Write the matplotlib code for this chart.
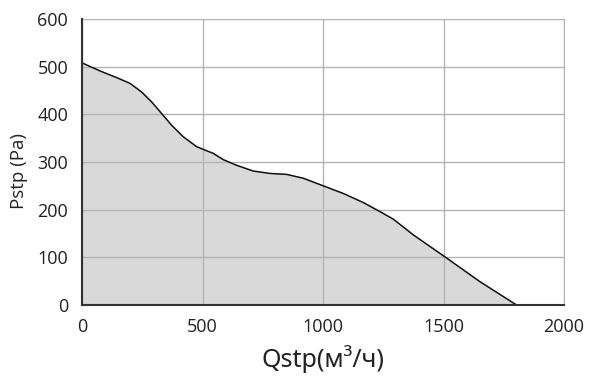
import matplotlib
matplotlib.use("Agg")
import matplotlib.pyplot as plt

# fan curve
flow = [0, 75, 144, 199, 247, 289, 330, 372, 420, 476, 545, 586, 642, 711, 780, 849,
        918, 1001, 1084, 1167, 1236, 1292, 1375, 1506, 1651, 1803]
pressure = [508, 491, 477, 465, 447, 426, 402, 377, 353, 332, 318, 305, 293, 281, 276, 274,
            266, 250, 234, 215, 196, 180, 147, 101, 49, 0]

x_ticks = [0, 500, 1000, 1500, 2000]
y_ticks = [0, 100, 200, 300, 400, 500, 600]

fig = plt.figure(figsize=(5.96, 3.78), dpi=100)
ax = fig.add_axes([82 / 596, 1 - 305 / 378, (564 - 82) / 596, (305 - 19) / 378])

ax.fill_between(flow, pressure, 0, color="#d9d9d9", zorder=1)
ax.plot(flow, pressure, color="#111111", lw=1.1, zorder=3)

ax.set_xlim(0, 2000)
ax.set_ylim(0, 600)
ax.set_xticks(x_ticks)
ax.set_yticks(y_ticks)
ax.grid(True, color="#b4b4b4", lw=1.0, zorder=2)
ax.set_axisbelow(False)

for side in ("top", "right"):
    ax.spines[side].set_color("#b4b4b4")
for side in ("left", "bottom"):
    ax.spines[side].set_color("#333333")
    ax.spines[side].set_linewidth(1.5)
    ax.spines[side].set_zorder(4)

ax.tick_params(length=0, labelsize=13, colors="#222222")
ax.tick_params(axis="y", pad=10)
ax.tick_params(axis="x", pad=9)
for lab in ax.get_xticklabels() + ax.get_yticklabels():
    lab.set_family("Open Sans")

ax.set_ylabel("Pstp (Pa)", fontsize=13.5, family="Open Sans", color="#222222")
ax.yaxis.set_label_coords(-0.113, 0.47)
ax.set_xlabel("Qstp(м³/ч)", fontsize=18, family="Noto Sans", color="#222222", labelpad=7)

fig.savefig("out.png", dpi=100)
